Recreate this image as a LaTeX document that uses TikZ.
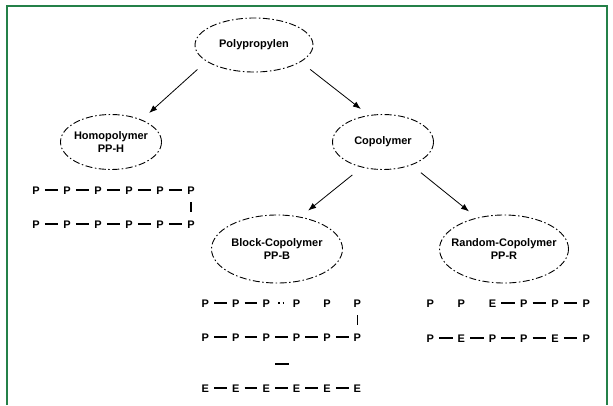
\documentclass[tikz,border=0pt]{standalone}
\usepackage{fontspec}
\setmainfont{Liberation Sans}
\usetikzlibrary{arrows.meta}
\usetikzlibrary{shapes.geometric}
\definecolor{framegreen}{RGB}{36,128,72}

\begin{document}
\begin{tikzpicture}[x=1pt,y=-1pt,
  kind/.style={draw, ellipse, line width=.9pt,
    dash pattern=on 7pt off 2.5pt on 1.5pt off 2.5pt,
    minimum width=#1, inner sep=0pt},
  txt/.style={font=\fontsize{11}{13}\selectfont\bfseries, align=center},
  mono/.style={font=\fontsize{11}{13}\selectfont\bfseries, inner sep=0pt,
    text height=8pt, text depth=0pt},
  bond/.style={line width=1.2pt, shorten <=5pt, shorten >=5pt},
  vbond/.style={line width=1.2pt, shorten <=8pt, shorten >=8pt},
  arr/.style={-{Latex[length=8pt,width=6pt]}, line width=.8pt,
    shorten <=12pt, shorten >=10pt}]
\useasboundingbox (0,0) rectangle (613,405);
\draw[framegreen, line width=1.2pt] (7,405) -- (7,6) -- (607,6) -- (607,405);

% classes
\node[kind=118pt, minimum height=54pt, label={[txt]center:Polypropylen}] (top) at (254,45) {};
\node[kind=101pt, minimum height=55pt, label={[txt]center:Homopolymer\\PP-H}] (homo) at (111,142) {};
\node[kind=101pt, minimum height=55pt, label={[txt]center:Copolymer}] (co) at (383,142) {};
\node[kind=131pt, minimum height=68pt, label={[txt]center:Block-Copolymer\\PP-B}] (block) at (277,249) {};
\node[kind=129pt, minimum height=68pt, label={[txt]center:Random-Copolymer\\PP-R}] (rand) at (504,249) {};

\draw[arr] (top.199) -- (homo.36);
\draw[arr] (top.340) -- (co.118);
\draw[arr] (co.230) -- (block.54);
\draw[arr] (co.321) -- (rand.131);

% homopolymer chain
\foreach \m [count=\i] in {P,P,P,P,P,P}
  \node[mono] (ha\i) at ({5+31*\i},190) {\m};
\foreach \m [count=\i] in {P,P,P,P,P,P}
  \node[mono] (hb\i) at ({5+31*\i},224) {\m};
\foreach \a/\b in {1/2,2/3,3/4,4/5,5/6} {
  \draw[bond] (ha\a) -- (ha\b);
  \draw[bond] (hb\a) -- (hb\b);
}
\draw[vbond] (ha6) -- (hb6);

% block copolymer chain
\foreach \m [count=\i] in {P,P,P,P,P,P}
  \node[mono] (ba\i) at ({175+30.4*\i},303) {\m};
\foreach \m [count=\i] in {P,P,P,P,P,P}
  \node[mono] (bb\i) at ({175+30.4*\i},337) {\m};
\foreach \m [count=\i] in {E,E,E,E,E,E}
  \node[mono] (bc\i) at ({175+30.4*\i},388) {\m};
\draw[bond] (ba1) -- (ba2);
\draw[bond] (ba2) -- (ba3);
\draw[bond, shorten <=8pt, shorten >=8pt, dash pattern=on 1.6pt off 3pt] (ba3) -- (ba4);
\draw[vbond] (ba6) -- (bb6);
\foreach \a/\b in {1/2,2/3,3/4,4/5,5/6} {
  \draw[bond] (bb\a) -- (bb\b);
  \draw[bond] (bc\a) -- (bc\b);
}
\node[inner sep=0pt] (gap) at (282,364) {\rule{14pt}{1.4pt}};

% random copolymer chain
\foreach \m [count=\i] in {P,P,E,P,P,P}
  \node[mono] (ra\i) at ({399+31.2*\i},303) {\m};
\foreach \m [count=\i] in {P,E,P,P,E,P}
  \node[mono] (rb\i) at ({399+31.2*\i},338) {\m};
\draw[bond] (ra3) -- (ra4);
\draw[bond] (ra4) -- (ra5);
\draw[bond] (ra5) -- (ra6);
\foreach \a/\b in {1/2,2/3,3/4,4/5,5/6}
  \draw[bond] (rb\a) -- (rb\b);
\end{tikzpicture}
\end{document}
